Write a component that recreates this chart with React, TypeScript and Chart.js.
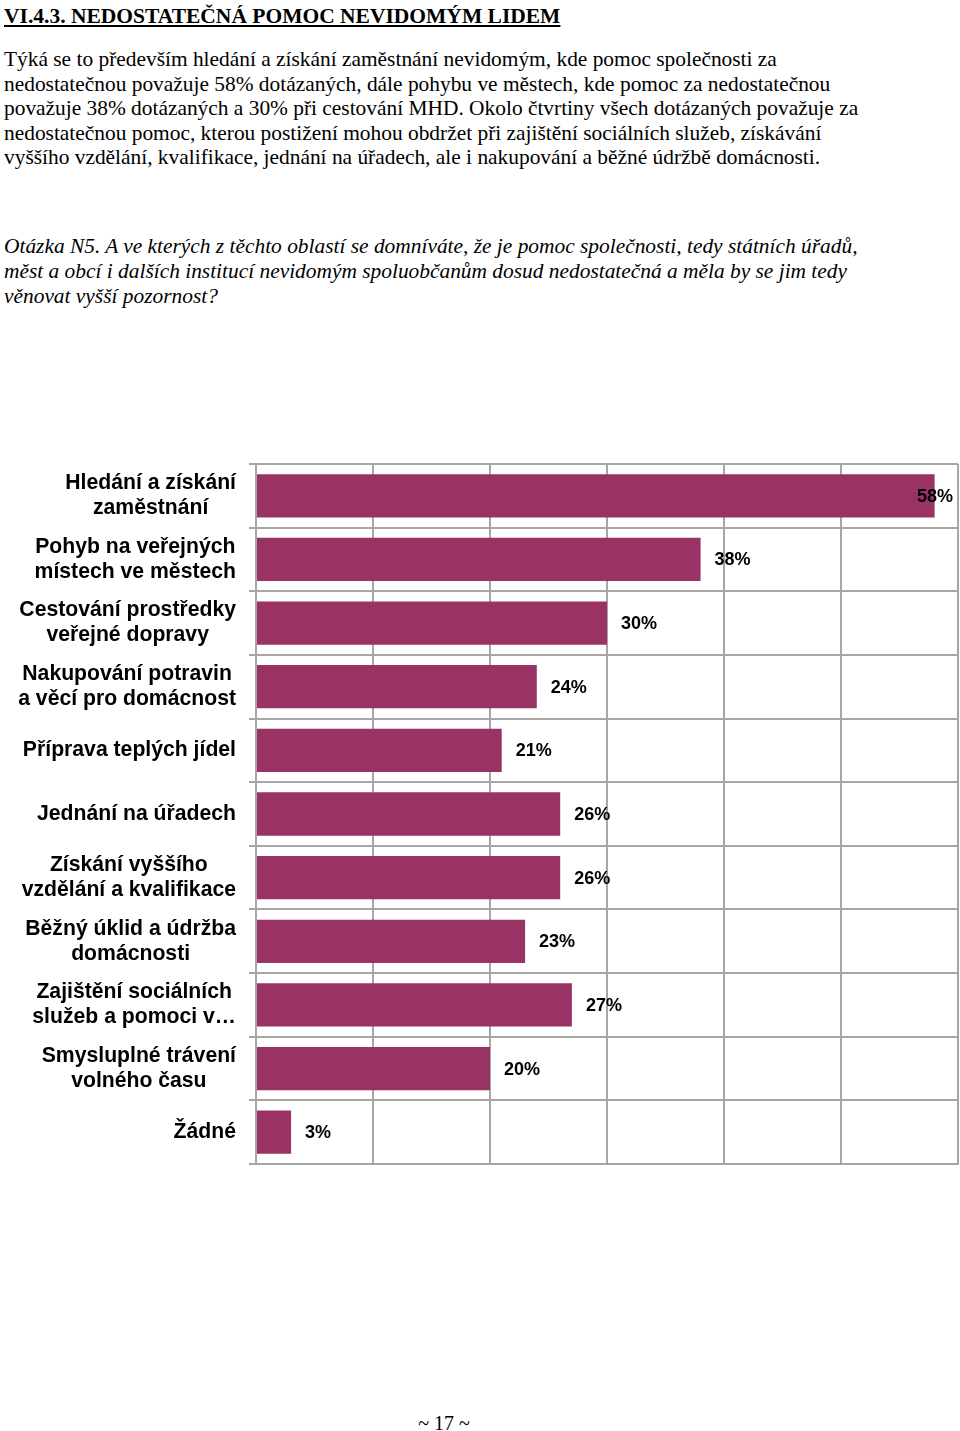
import React, { useEffect, useRef } from "react";
import { Chart, registerables } from "chart.js";

Chart.register(...registerables);

const titleText = "VI.4.3. NEDOSTATEČNÁ POMOC NEVIDOMÝM LIDEM";
const paragraphLines = [
  "Týká se to především hledání a získání zaměstnání nevidomým, kde pomoc společnosti za",
  "nedostatečnou považuje 58% dotázaných, dále pohybu ve městech, kde pomoc za nedostatečnou",
  "považuje 38% dotázaných a 30% při cestování MHD. Okolo čtvrtiny všech dotázaných považuje za",
  "nedostatečnou pomoc, kterou postižení mohou obdržet při zajištění sociálních služeb, získávání",
  "vyššího vzdělání, kvalifikace, jednání na úřadech, ale i nakupování a běžné údržbě domácnosti.",
];
const questionLines = [
  "Otázka N5. A ve kterých z těchto oblastí se domníváte, že je pomoc společnosti, tedy státních úřadů,",
  "měst a obcí i dalších institucí nevidomým spoluobčanům dosud nedostatečná a měla by se jim tedy",
  "věnovat vyšší pozornost?",
];
const pageNumber = "~ 17 ~";

const categories: string[][] = [
  ["Hledání a získání", "zaměstnání"],
  ["Pohyb na veřejných", "místech ve městech"],
  ["Cestování prostředky", "veřejné dopravy"],
  ["Nakupování potravin", "a věcí pro domácnost"],
  ["Příprava teplých jídel"],
  ["Jednání na úřadech"],
  ["Získání vyššího", "vzdělání a kvalifikace"],
  ["Běžný úklid a údržba", "domácnosti"],
  ["Zajištění sociálních", "služeb a pomoci v…"],
  ["Smysluplné trávení", "volného času"],
  ["Žádné"],
];
const values = [58, 38, 30, 24, 21, 26, 26, 23, 27, 20, 3];
const axisMin = 0;
const axisMax = 60;
const axisStep = 10;

const BAR_COLOR = "#993366";
const GRID_COLOR = "#a6a6a6";
const LABEL_FONT = "bold 21.2px 'Liberation Sans', Arial, sans-serif";
const VALUE_FONT = "bold 18px 'Liberation Sans', Arial, sans-serif";

const labelPlugin = {
  id: "customLabels",
  afterDatasetsDraw(chart: any) {
    const ctx = chart.ctx;
    const yScale = chart.scales.y;
    const area = chart.chartArea;
    ctx.save();
    // category labels: block right-aligned, lines centred
    ctx.font = LABEL_FONT;
    ctx.fillStyle = "#000";
    ctx.textBaseline = "middle";
    ctx.textAlign = "center";
    const rightEdge = yScale.right - 20;
    categories.forEach((lines, i) => {
      const yc = yScale.getPixelForValue(i);
      const maxW = Math.max(...lines.map((l) => ctx.measureText(l).width));
      const cx = rightEdge - maxW / 2;
      const lh = 25;
      lines.forEach((line, j) => {
        ctx.fillText(line, cx, yc + (j - (lines.length - 1) / 2) * lh);
      });
    });
    // value labels
    ctx.font = VALUE_FONT;
    ctx.textAlign = "left";
    const meta = chart.getDatasetMeta(0);
    meta.data.forEach((bar: any, i: number) => {
      const txt = values[i] + "%";
      const w = ctx.measureText(txt).width;
      let x = bar.x + 14;
      if (x + w > area.right - 5) x = area.right - 5 - w;
      ctx.fillText(txt, x, bar.y + 1);
    });
    ctx.restore();
  },
};

function BarChart() {
  const ref = useRef<HTMLCanvasElement | null>(null);
  useEffect(() => {
    if (!ref.current) return;
    const chart = new Chart(ref.current, {
      type: "bar",
      data: {
        labels: categories,
        datasets: [
          {
            data: values,
            backgroundColor: BAR_COLOR,
            borderWidth: 0,
            barPercentage: 0.68,
            categoryPercentage: 1,
          },
        ],
      },
      options: {
        indexAxis: "y",
        responsive: false,
        animation: false,
        devicePixelRatio: 1,
        layout: { padding: { top: 9, right: 2, bottom: 11, left: 0 } },
        plugins: {
          legend: { display: false },
          tooltip: { enabled: false },
        },
        scales: {
          x: {
            min: axisMin,
            max: axisMax,
            ticks: { stepSize: axisStep, display: false },
            grid: { color: GRID_COLOR, lineWidth: 2, drawTicks: false },
            border: { color: GRID_COLOR, width: 2 },
          },
          y: {
            ticks: { display: false },
            grid: { color: GRID_COLOR, lineWidth: 2, offset: true, tickLength: 7 },
            border: { color: GRID_COLOR, width: 2 },
            afterFit: (scale: any) => {
              scale.width = 256;
            },
          },
        },
      },
      plugins: [labelPlugin],
    } as any);
    return () => chart.destroy();
  }, []);
  return <canvas ref={ref} width={960} height={720} style={{ display: "block" }} />;
}

export default function App() {
  const serif = "'Liberation Serif', 'Times New Roman', serif";
  return (
    <div
      style={{
        position: "absolute",
        left: 0,
        top: 0,
        width: 960,
        height: 1431,
        background: "#fff",
        overflow: "hidden",
        fontFamily: serif,
        color: "#000",
      }}
    >
      <div
        style={{
          position: "absolute",
          left: 4,
          top: 4,
          fontSize: 21.5,
          fontWeight: "bold",
          textDecoration: "underline",
          whiteSpace: "nowrap",
          lineHeight: "24px",
        }}
      >
        {titleText}
      </div>
      <div style={{ position: "absolute", left: 4, top: 47, fontSize: 21.4, lineHeight: "24.6px" }}>
        {paragraphLines.map((l, i) => (
          <div key={i} style={{ whiteSpace: "nowrap" }}>
            {l}
          </div>
        ))}
      </div>
      <div
        style={{
          position: "absolute",
          left: 4,
          top: 234,
          fontSize: 21.4,
          lineHeight: "24.8px",
          fontStyle: "italic",
        }}
      >
        {questionLines.map((l, i) => (
          <div key={i} style={{ whiteSpace: "nowrap" }}>
            {l}
          </div>
        ))}
      </div>
      <div style={{ position: "absolute", left: 0, top: 455 }}>
        <BarChart />
      </div>
      <div
        style={{
          position: "absolute",
          left: 0,
          width: 888,
          top: 1410,
          textAlign: "center",
          fontSize: 20,
          lineHeight: "26px",
        }}
      >
        {pageNumber}
      </div>
    </div>
  );
}
